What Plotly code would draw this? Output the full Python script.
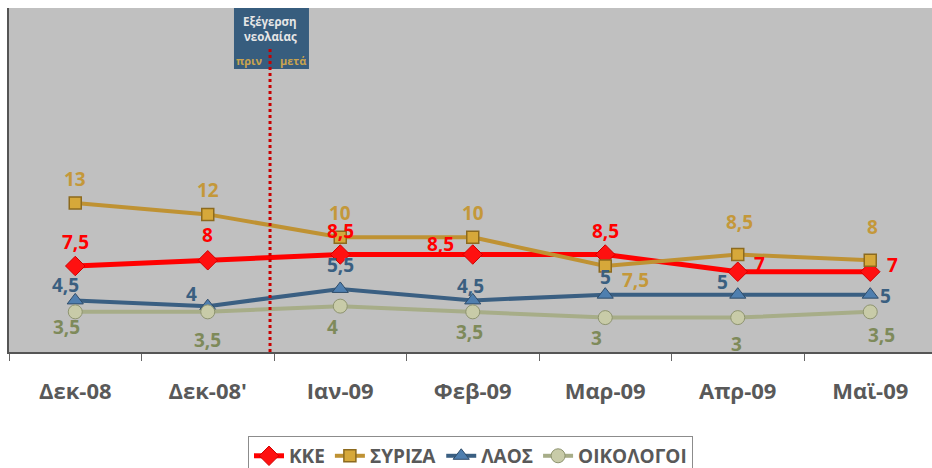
import plotly.graph_objects as go

categories = ["Δεκ-08", "Δεκ-08'", "Ιαν-09", "Φεβ-09", "Μαρ-09", "Απρ-09", "Μαϊ-09"]
kke = [7.5, 8, 8.5, 8.5, 8.5, 7, 7]
syriza = [13, 12, 10, 10, 7.5, 8.5, 8]
laos = [4.5, 4, 5.5, 4.5, 5, 5, 5]
oikologoi = [3.5, 3.5, 4, 3.5, 3, 3, 3.5]

# label offsets (pixels) relative to markers
kke_off = [(0, 24), (0, 25), (0, 24), (-32, 11), (0, 24), (22, 8), (22, 7)]
syriza_off = [(0, 24), (0, 24), (0, 24), (0, 24), (30, -14), (2, 33), (2, 33)]
laos_off = [(-10, 15), (-16, 12), (0, 24), (-2, 14), (0, 18), (-15, 13), (15, -1)]
oik_off = [(-9, -15), (0, -28), (-8, -21), (-3, -20), (-9, -20), (-1, -26), (11, -23)]

FONT = "Open Sans"

series = [
    ("ΚΚΕ", kke, kke_off, "#FF0000", "#FF0000", dict(symbol="diamond", size=15, color="#FF1010", line=dict(color="#D00000", width=1)), 5),
    ("ΣΥΡΙΖΑ", syriza, syriza_off, "#BF9233", "#C4983A", dict(symbol="square", size=12, color="#D6A83A", line=dict(color="#8C6A1E", width=1.5)), 4),
    ("ΛΑΟΣ", laos, laos_off, "#3A5F82", "#3A5F80", dict(symbol="triangle-up", size=14, color="#4F7FAF", line=dict(color="#2E4C6A", width=1)), 4),
    ("ΟΙΚΟΛΟΓΟΙ", oikologoi, oik_off, "#A7AD88", "#7E8A5A", dict(symbol="circle", size=14, color="#C8CBA8", line=dict(color="#8E9470", width=1)), 4),
]

fig = go.Figure()
annotations = []
for name, vals, offs, lc, tc, mk, lw in series:
    fig.add_trace(go.Scatter(
        x=categories, y=vals, name=name, mode="lines+markers",
        line=dict(color=lc, width=lw), marker=mk,
    ))
    for c, v, (dx, dy) in zip(categories, vals, offs):
        annotations.append(dict(
            x=c, y=v, xref="x", yref="y", text=f"{v:g}".replace(".", ","),
            showarrow=False, xshift=dx, yshift=dy, xanchor="center", yanchor="middle",
            font=dict(family=FONT, size=19, color=tc, weight="bold"),
        ))

# event marker: box + dotted line
event_x = 1.47
box_x0, box_x1 = 1.198, 1.764
fig.add_shape(type="rect", xref="x", yref="paper", x0=box_x0, x1=box_x1, y0=0.823, y1=1.0,
              fillcolor="#375D7E", line=dict(width=0), layer="above")
fig.add_shape(type="line", xref="x", yref="paper", x0=event_x, x1=event_x, y0=0, y1=0.887,
              line=dict(color="#C80000", width=3, dash="dot"), layer="above")
box_texts = [
    ("Εξέγερση", 22, 0, 11.5, "#E6E6E6"),
    ("νεολαίας", 36, 0, 11.5, "#E6E6E6"),
    ("πριν", 60, -21, 11, "#C9A44E"),
    ("μετά", 60, 23, 11, "#C9A44E"),
]
for txt, ypx, dx, fs, col in box_texts:
    annotations.append(dict(
        x=event_x, y=(352 - ypx) / 344, xref="x", yref="paper", text=txt, showarrow=False,
        xshift=dx, xanchor="center", yanchor="middle",
        font=dict(family=FONT, size=fs, color=col, weight="bold")))

fig.update_layout(
    width=932, height=468,
    margin=dict(l=9, r=0, t=8, b=116, autoexpand=False),
    paper_bgcolor="white", plot_bgcolor="#C0C0C0",
    showlegend=True,
    legend=dict(orientation="h", x=0.5, xanchor="center", y=-0.244, yanchor="top",
                bordercolor="#8C8C8C", borderwidth=1, bgcolor="white",
                font=dict(family=FONT, size=19, color="#595959", weight="bold"),
                itemwidth=30, tracegroupgap=0),
    annotations=annotations,
    xaxis=dict(type="category", range=[-0.5, 6.466], tickson="boundaries", ticks="outside",
               ticklen=7, tickcolor="#666666", showline=True, linecolor="#555555", linewidth=1.5,
               mirror=False, showgrid=False, zeroline=False, ticklabelstandoff=19,
               tickfont=dict(family=FONT, size=22, color="#595959", weight="bold")),
    yaxis=dict(range=[0, 30], showticklabels=False, showgrid=False, zeroline=False,
               showline=True, linecolor="#555555", linewidth=1.5, mirror=True, ticks=""),
)

fig.write_html("out.html", config={"displayModeBar": False},
               post_script="document.body.style.margin='0';document.body.style.overflow='hidden';")
